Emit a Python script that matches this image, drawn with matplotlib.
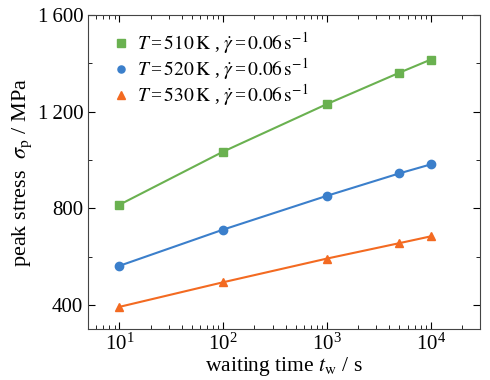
import matplotlib
matplotlib.use("Agg")
import matplotlib.pyplot as plt
from matplotlib.ticker import FixedLocator, FuncFormatter, LogLocator, NullFormatter

plt.rcParams['font.family'] = ['Liberation Serif', 'DejaVu Serif']
plt.rcParams['mathtext.fontset'] = 'stix'

# data
wait_time = [10, 100, 1000, 5000, 10000]
stress_510 = [815, 1035, 1232, 1362, 1416]
stress_520 = [562, 712, 852, 945, 982]
stress_530 = [392, 494, 592, 656, 684]
temps = [510, 520, 530]
colors = ['#6ab150', '#3b7fcb', '#f36a21']
markers = ['s', 'o', '^']

fig = plt.figure(figsize=(4.9, 3.8), dpi=100)
ax = fig.add_axes([0.18, 0.134, 0.8, 0.826])

for T, ys, c, m in zip(temps, [stress_510, stress_520, stress_530], colors, markers):
    lab = r'$T\,$=$\,%d\,\mathrm{K}$ , $\dot{\gamma}\,$=$\,0.06\,\mathrm{s}^{-1}$' % T
    ax.plot(wait_time, ys, color=c, lw=1.5)
    ax.plot(wait_time, ys, color=c, ls='none', marker=m, ms=6, label=lab)

ax.set_xscale('log')
ax.set_xlim(5, 3e4)
ax.set_ylim(300, 1600)
ax.yaxis.set_major_locator(FixedLocator([400, 800, 1200, 1600]))
ax.yaxis.set_minor_locator(FixedLocator([600, 1000, 1400]))
ax.yaxis.set_major_formatter(FuncFormatter(
    lambda v, p: ('%d' % v) if v < 1000 else '%d\u2009%03d' % (v // 1000, v % 1000)))
ax.xaxis.set_minor_locator(LogLocator(base=10, subs=range(2, 10)))
ax.xaxis.set_minor_formatter(NullFormatter())

ax.tick_params(which='both', direction='in', top=True, right=True, labelsize=15)
ax.tick_params(which='major', length=5)
ax.tick_params(which='minor', length=3)
for s in ax.spines.values():
    s.set_color('#444444')

ax.set_xlabel(r'waiting time $t_\mathrm{w}$ / s', fontsize=15.5, labelpad=0)
ax.set_ylabel(r'peak stress  $\sigma_\mathrm{p}$ / MPa', fontsize=16, labelpad=3)

ax.legend(loc='upper left', frameon=False, fontsize=14, handlelength=0.6,
          handletextpad=0.5, labelspacing=0.0, borderaxespad=0.2,
          markerscale=0.85, bbox_to_anchor=(0.04, 0.99))

fig.savefig('out.png', dpi=100)
